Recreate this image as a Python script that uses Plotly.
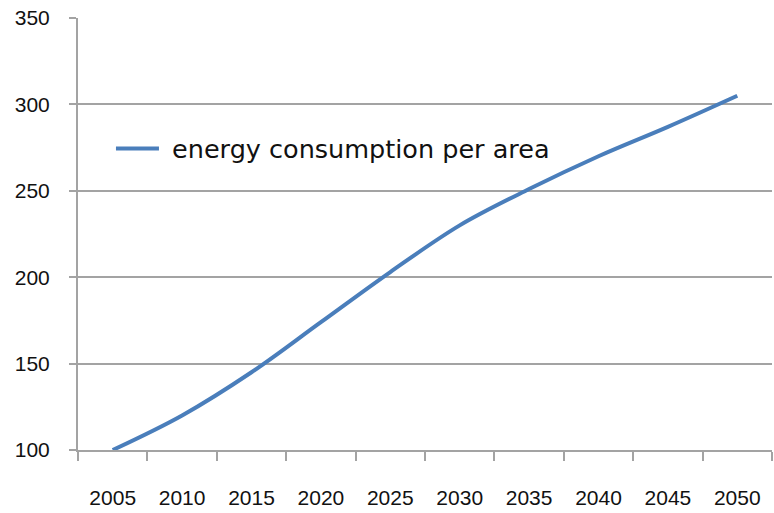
import plotly.graph_objects as go

# Energy consumption per area, 2005-2050
years = ["2005", "2010", "2015", "2020", "2025", "2030", "2035", "2040", "2045", "2050"]
consumption = [100, 120, 145, 174, 203, 230, 251, 270, 287, 305]
y_ticks = [100, 150, 200, 250, 300, 350]

LINE_BLUE = "#4a7ebb"
GRID_GREY = "#a3a3a3"
TICK_FONT = dict(family="Liberation Sans, Arial, sans-serif", size=21, color="#111111")

fig = go.Figure()
fig.add_trace(go.Scatter(
    x=years,
    y=consumption,
    mode="lines",
    name="\u00a0energy consumption per area",
    line=dict(color=LINE_BLUE, width=4, shape="spline", smoothing=1),
))

fig.update_layout(
    width=774,
    height=513,
    margin=dict(l=78, r=2, t=18, b=63),
    paper_bgcolor="white",
    plot_bgcolor="white",
    showlegend=True,
    legend=dict(
        x=0.0475, y=0.697, xanchor="left", yanchor="middle",
        bgcolor="rgba(0,0,0,0)",
        font=dict(family="DejaVu Sans, sans-serif", size=25.5, color="#111111"),
        itemwidth=43,
    ),
    xaxis=dict(
        type="category",
        range=[-0.5, 9.5],
        tickson="boundaries",
        ticks="outside",
        ticklen=9,
        tickwidth=2,
        tickcolor=GRID_GREY,
        showline=True,
        linecolor=GRID_GREY,
        linewidth=2,
        showgrid=False,
        tickfont=TICK_FONT,
        ticklabelstandoff=28,
        zeroline=False,
    ),
    yaxis=dict(
        range=[100, 350],
        tickvals=y_ticks,
        ticks="outside",
        ticklen=7,
        tickwidth=2,
        tickcolor=GRID_GREY,
        showline=True,
        linecolor=GRID_GREY,
        linewidth=2,
        showgrid=True,
        gridcolor=GRID_GREY,
        gridwidth=2,
        tickfont=TICK_FONT,
        ticklabelstandoff=15,
        zeroline=False,
    ),
)

fig.write_html("out.html")
